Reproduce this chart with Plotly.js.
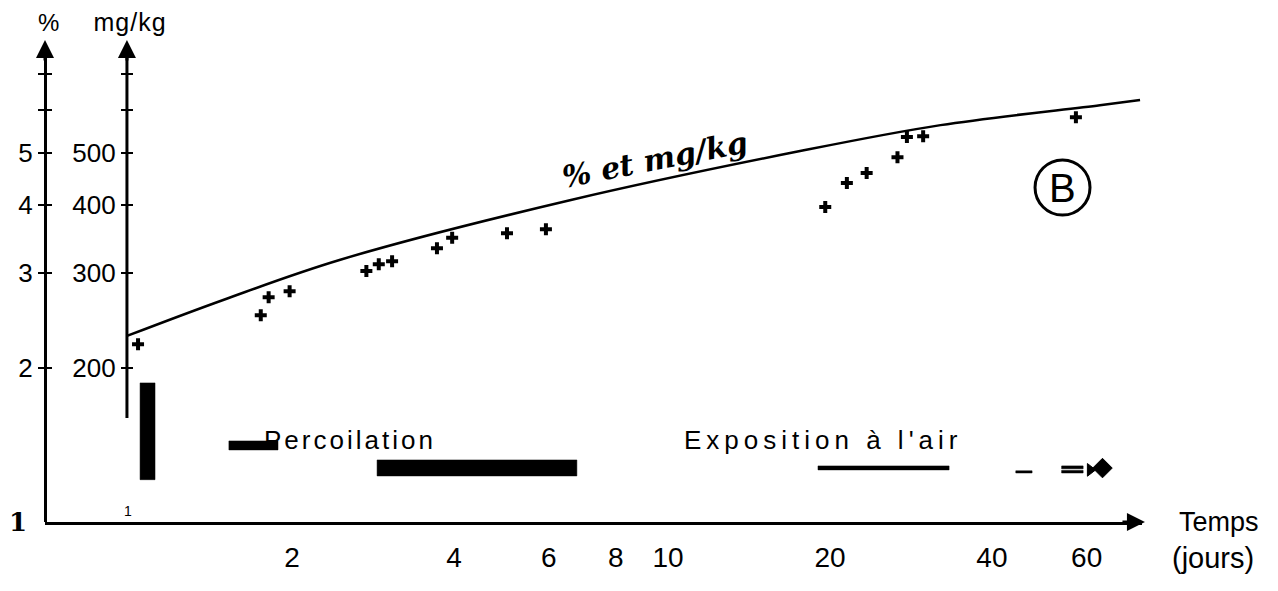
<!DOCTYPE html>
<html><head><meta charset="utf-8">
<script src="https://cdn.plot.ly/plotly-3.0.1.min.js"></script>
<style>
html,body{margin:0;padding:0;background:#fff;}
#chart{width:1278px;height:591px;}
g.annotation[data-index="4"] text{letter-spacing:3px;}
g.annotation[data-index="5"] text{letter-spacing:5px;}
g.annotation[data-index="1"] text{letter-spacing:1px;}
</style>
</head><body><div id="chart"></div>
<script>
// ---- data ----
const xTickVals = [2, 4, 6, 8, 10, 20, 40, 60];
const xTickText = ['2', '4', '6', '8', '10', '20', '40', '60'];
const mgTickVals = [200, 300, 400, 500, 600, 700];
const mgTickText = ['200', '300', '400', '500', '', ''];
const pctTickVals = [2, 3, 4, 5, 6, 7];
const pctTickText = ['2', '3', '4', '5', '', ''];

// measured points (days, mg/kg)
const obsDays = [1.035, 1.75, 1.81, 1.98, 2.75, 2.90, 3.07, 3.72, 3.97, 5.02, 5.93, 19.6, 21.5, 23.4, 26.7, 27.8, 29.8, 57.3];
const obsMgkg = [221, 250, 270, 277, 302, 311, 315, 333, 348, 355, 361, 397, 440, 459, 491, 535, 537, 582];

// drawn curve "% et mg/kg"
const curveDays = [0.987, 1.49, 2.46, 6.60, 17.6, 32.1, 63.5, 75.4];
const curveMgkg = [229, 267, 317, 409, 504, 563, 613, 627];

// period bars (percolation / exposition à l'air), as day ranges x mg/kg ranges
const barDayStart = [1.044, 1.527, 2.879, 19.0, 44.3, 53.9, 53.9];
const barDayEnd   = [1.113, 1.884, 6.77, 33.3, 47.5, 59.1, 59.1];
const barMgLow    = [124, 140.8, 126, 129.3, 127.6, 129.9, 127.6];
const barMgHigh   = [187.4, 146.3, 134.9, 131.5, 128.8, 131.5, 129.0];

// arrow end of the last period
const endDays = [60.9, 64.2];
const endMgkg = [129.3, 130.3];
const endSymbols = ['triangle-right', 'diamond'];

// ---- build traces ----
const traces = [];
for (let i = 0; i < barDayStart.length; i++) {
  traces.push({
    x: [barDayStart[i], barDayEnd[i], barDayEnd[i], barDayStart[i], barDayStart[i]],
    y: [barMgLow[i], barMgLow[i], barMgHigh[i], barMgHigh[i], barMgLow[i]],
    mode: 'lines', fill: 'toself', fillcolor: '#000',
    line: {color: '#000', width: 0.5}, hoverinfo: 'skip', showlegend: false,
    xaxis: 'x', yaxis: 'y'
  });
}
traces.push({
  x: endDays, y: endMgkg, mode: 'markers',
  marker: {symbol: endSymbols, size: [11, 15], color: '#000', opacity: 1, line: {color: '#000', width: 1}},
  opacity: 1, showlegend: false, xaxis: 'x', yaxis: 'y'
});
traces.push({
  x: curveDays, y: curveMgkg, mode: 'lines',
  line: {color: '#000', width: 2.5, shape: 'spline', smoothing: 1},
  showlegend: false, xaxis: 'x', yaxis: 'y'
});
traces.push({
  x: obsDays, y: obsMgkg, mode: 'markers',
  marker: {symbol: 'cross', size: 10, color: '#000'},
  showlegend: false, xaxis: 'x', yaxis: 'y'
});
traces.push({x: [], y: [], xaxis: 'x', yaxis: 'y2', showlegend: false});
traces.push({x: [], y: [], xaxis: 'x', yaxis: 'y3', showlegend: false});
traces.push({x: [], y: [], xaxis: 'x', yaxis: 'y4', showlegend: false});

const mgRange = [2.015, 2.899];
const pctRange = [mgRange[0] - 2, mgRange[1] - 2];
const mgPos = 0.0747;
const tickFont = {family: 'Liberation Sans, Arial, sans-serif', size: 26, color: '#000'};

function note(x, y, text, font, extra) {
  return Object.assign({xref: 'paper', yref: 'paper', x: x, y: y, text: text, showarrow: false,
    xanchor: 'center', yanchor: 'middle', font: font}, extra || {});
}
function arrowTip(x, y, ax, ay) {
  return {xref: 'paper', yref: 'paper', x: x, y: y, ax: ax, ay: ay, text: '', showarrow: true,
    arrowhead: 2, arrowsize: 1.2, arrowwidth: 3, arrowcolor: '#000', standoff: 0};
}

const layout = {
  width: 1278, height: 591,
  margin: {l: 45, r: 136, t: 45, b: 69},
  paper_bgcolor: '#fff', plot_bgcolor: '#fff',
  showlegend: false,
  xaxis: {
    type: 'log', range: [-0.158, 1.881],
    showgrid: false, zeroline: false,
    showline: true, linewidth: 3, linecolor: '#000',
    ticks: '', tickvals: xTickVals, ticktext: xTickText,
    ticklabelstandoff: 8,
    tickfont: {family: 'Liberation Sans Narrow, Liberation Sans, sans-serif', size: 28, color: '#000'}
  },
  yaxis: {
    type: 'log', range: mgRange, anchor: 'free', position: mgPos, side: 'left',
    showgrid: false, zeroline: false, showline: false,
    ticks: 'outside', ticklen: 6, tickwidth: 2, tickcolor: '#000',
    tickvals: mgTickVals, ticktext: mgTickText, tickfont: tickFont
  },
  yaxis3: {
    type: 'log', range: mgRange, overlaying: 'y', anchor: 'free', position: mgPos, side: 'left',
    showgrid: false, zeroline: false, showline: false,
    ticks: 'inside', ticklen: 5, tickwidth: 2, tickcolor: '#000',
    tickvals: mgTickVals, showticklabels: false
  },
  yaxis2: {
    type: 'log', range: pctRange, overlaying: 'y', anchor: 'free', position: 0, side: 'left',
    showgrid: false, zeroline: false, showline: true, linewidth: 3, linecolor: '#000',
    ticks: 'outside', ticklen: 6, tickwidth: 2, tickcolor: '#000',
    tickvals: pctTickVals, ticktext: pctTickText, tickfont: tickFont
  },
  yaxis4: {
    type: 'log', range: pctRange, overlaying: 'y', anchor: 'free', position: 0, side: 'left',
    showgrid: false, zeroline: false, showline: false,
    ticks: 'inside', ticklen: 6, tickwidth: 2, tickcolor: '#000',
    tickvals: pctTickVals, showticklabels: false
  },
  shapes: [
    {type: 'line', xref: 'paper', yref: 'paper', x0: mgPos, x1: mgPos, y0: 0.218, y1: 1.0,
     line: {color: '#000', width: 3}},
    {type: 'circle', xref: 'paper', yref: 'paper', x0: 0.9025, x1: 0.9526, y0: 0.6436, y1: 0.759,
     line: {color: '#000', width: 3}}
  ],
  annotations: [
    // 0,1: axis titles
    note(0.003, 1.048, '%', {family: 'Liberation Sans, sans-serif', size: 24, color: '#000'}),
    note(0.0775, 1.048, 'mg/kg', {family: 'Liberation Sans, sans-serif', size: 25, color: '#000'}),
    // 2,3: Temps (jours)
    note(1.07, 0.0, 'Temps', {family: 'Liberation Sans Narrow, Liberation Sans, sans-serif', size: 27, color: '#000'}),
    note(1.065, -0.075, '(jours)', {family: 'Liberation Sans Narrow, Liberation Sans, sans-serif', size: 29, color: '#000'}),
    // 4,5: period labels
    note(0.2776, 0.172, 'Percoilation', {family: 'Liberation Sans, sans-serif', size: 26, color: '#000'}),
    note(0.7101, 0.172, "Exposition à l'air", {family: 'Liberation Sans, sans-serif', size: 26, color: '#000'}),
    // 6: bold 1 of % axis, 7: small 1 of time axis
    note(-0.0246, 0.0, '<b>1</b>', {family: 'DejaVu Serif, serif', size: 26, color: '#000'}),
    note(0.0757, 0.023, '1', {family: 'Liberation Sans, sans-serif', size: 14, color: '#000'}),
    // 8: handwritten note on the curve
    note(0.556, 0.759, '% et mg/kg', {family: 'DejaVu Serif, serif', size: 30, style: 'italic', weight: 'bold', color: '#000'}, {textangle: -11}),
    // 9: circled B
    note(0.9276, 0.701, 'B', {family: 'Liberation Sans, sans-serif', size: 40, color: '#000'}),
    // 10-12: axis arrowheads
    arrowTip(0, 1.0105, 0, 22),
    arrowTip(mgPos, 1.0105, 0, 22),
    arrowTip(1.0027, 0, -24, 0)
  ]
};

Plotly.newPlot('chart', traces, layout, {staticPlot: true, displayModeBar: false});
</script>
</body></html>
